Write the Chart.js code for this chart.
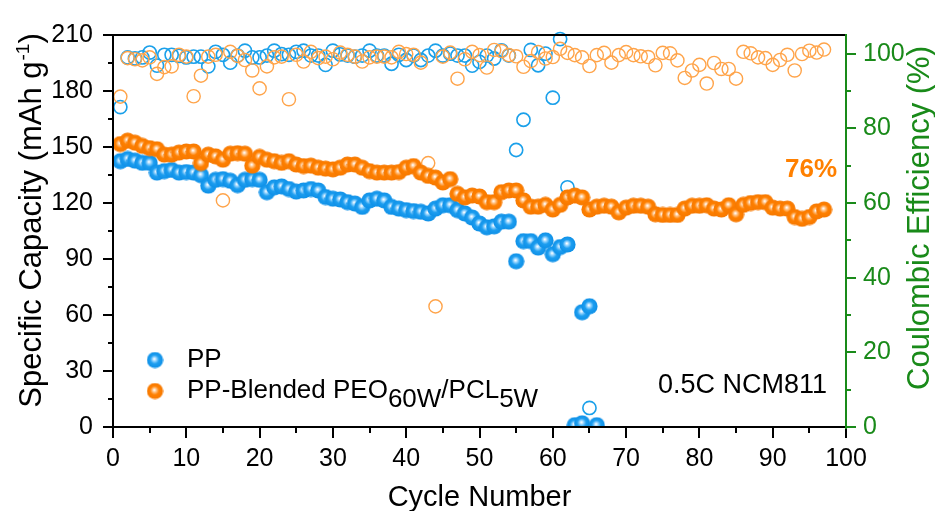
<!DOCTYPE html>
<html><head><meta charset="utf-8">
<script src="https://cdn.jsdelivr.net/npm/chart.js@4.4.1/dist/chart.umd.min.js"></script>
<style>html,body{margin:0;padding:0;background:#fff}canvas{display:block}</style>
</head><body>
<canvas id="c" width="935" height="511"></canvas>
<script>
// ---------- data ----------
const ppCapCycles = [1,2,3,4,5,6,7,8,9,10,11,12,13,14,15,16,17,18,19,20,21,22,23,24,25,26,27,28,29,30,31,32,33,34,35,36,37,38,39,40,41,42,43,44,45,46,47,48,49,50,51,52,53,54,55,56,57,58,59,60,61,62,63,64,64,65,66];
const ppCapacity = [142.4,143.6,142.7,141.5,141.5,136.3,137.1,137.7,136.3,136.6,
  136.3,134.9,129.3,132.4,132.8,131.9,129.6,132.4,132.8,132.4,
  125.8,128.4,128.9,127.5,126.1,126.7,127.5,126.7,123.2,122.3,
  121.9,120.5,119.7,117.9,121.4,122.3,121.4,117.9,117,116.2,
  115.7,115.3,114.4,117,118.8,118.8,116.2,114.4,112.2,109,
  107,107.5,110,110,88.8,99.6,99.6,96.1,100,92.6,96.4,97.8,
  1,61.5,2,64.7,1];
const blendCapCycles = [1,2,3,4,5,6,7,8,9,10,11,12,13,14,15,16,17,18,19,20,21,22,23,24,25,26,27,28,29,30,31,32,33,34,35,36,37,38,39,40,41,42,43,44,45,46,47,48,49,50,51,52,53,54,55,56,57,58,59,60,61,62,63,64,65,66,67,68,69,70,71,72,73,74,75,76,77,78,79,80,81,82,83,84,85,86,87,88,89,90,91,92,93,94,95,96,97];
const blendCapacity = [151.6,153.4,152.3,150.6,149.4,148.8,145.9,145.9,147,147.6,
  147.6,141.4,145.9,145,143.2,146.4,146.7,146.4,140,144.7,
  143.2,142.4,141.5,142.4,140.6,139.8,140,138.9,138.4,138,
  138.9,140.6,140.6,138.9,137.1,136.3,136.3,136.3,136.6,138.9,
  139.8,136.3,134.5,133.6,131,132.8,124.9,123,124,123.5,
  120.5,120.5,125.8,126.7,126.7,121.4,118,118,119,116.5,
  119,123,124,123,116.5,118,118.5,118,115,117.5,
  118.5,118.5,118,114,113.6,113.6,113.6,117,118.5,118.5,
  118.8,117,116.5,118.8,114,119,120,120.5,120.5,117.5,
  117,117,112.5,111.5,112.5,115.5,116.5];
const ppCECycles = [1,2,3,4,5,6,7,8,9,10,11,12,13,14,15,16,17,18,19,20,21,22,23,24,25,26,27,28,29,30,31,32,33,34,35,36,37,38,39,40,41,42,43,44,45,46,47,48,49,50,51,52,53,54,55,56,57,58,59,60,61,62,65];
const ppCE = [85.7,99,98.7,99,100.3,96.8,99.7,99.7,99.4,99,
  99.2,99.2,96.6,100.5,99.7,97.6,99.5,100.8,99,99,
  99.5,100.8,99.9,99.7,100.5,100.8,99.5,99.5,97,100.8,
  99.8,99.5,99.2,99.5,100.8,99.5,99.5,97.3,99.7,98.3,
  99.5,98.3,99.5,100.8,99.5,100,99.5,99.5,96.8,97.8,
  99.5,98.7,100.9,99.5,74.2,82.3,101,96.9,100,88.2,103.9,64.2,
  5.1];
const blendCECycles = blendCapCycles;
const blendCE = [88.5,98.8,98.5,98.2,99,94.6,96.4,96.6,99.7,99.2,
  88.6,94.1,99.2,99.7,60.7,100.5,99.4,98.3,95.5,90.7,
  96.6,99,99.2,87.8,99.7,97.9,100.5,98.8,99.2,98.5,
  100.3,99.7,99.2,97.9,99,99.2,99.2,99,100.5,99.9,
  99.7,97.6,70.7,32.3,99.2,100.3,93.3,98.5,100.5,99.6,
  96.3,101,100.7,99.6,99.3,96.5,98,100.4,98.7,99.1,
  101.3,100.2,99.6,99,96.7,99.6,100.2,97.6,99.6,100.4,
  99.6,99.3,99.1,96.9,100.2,100.1,98.2,93.5,95.5,97,
  92,97.5,95.9,95.9,93.3,100.5,100.1,99,98.8,97,
  98.3,99.7,95.5,99.9,100.8,100.3,101.1];
const xTickValues = [0,10,20,30,40,50,60,70,80,90,100];
const yTickValues = [0,30,60,90,120,150,180,210];
const ceTickValues = [0,20,40,60,80,100];
const seriesNames = ['PP', 'PP-Blended PEO', '60W', '/PCL', '5W'];

// ---------- style ----------
const FONT = "'Liberation Sans', Arial, sans-serif";
const GREEN = '#198a19';
const BLUE = '#1d9ef0', ORANGE = '#ff8000';
const BLUE_OPEN = '#1aa0ea', ORANGE_OPEN = '#ffa44a';

function sphere(base, light, dark) {
  const c = document.createElement('canvas');
  c.width = c.height = 17;
  const g = c.getContext('2d');
  const grad = g.createRadialGradient(7.8, 7.4, 0.3, 8.5, 8.5, 8.5);
  grad.addColorStop(0, '#ffffff');
  grad.addColorStop(0.2, light);
  grad.addColorStop(0.5, base);
  grad.addColorStop(1, dark);
  g.fillStyle = grad;
  g.beginPath(); g.arc(8.5, 8.5, 8.1, 0, Math.PI * 2); g.fill();
  return c;
}
const blueSphere = sphere(BLUE, '#9ad6ff', '#0c8ee6');
const orangeSphere = sphere(ORANGE, '#ffc58a', '#f57800');

const pts = (xs, ys) => xs.map((x, i) => ({x: x, y: ys[i]}));

const axesPlugin = {
  id: 'axesPlugin',
  afterDraw(chart) {
    const ctx = chart.ctx;
    const {left, right, top, bottom} = chart.chartArea;
    const sx = chart.scales.x, sy = chart.scales.y, sr = chart.scales.y2;
    ctx.save();
    ctx.lineWidth = 2;
    ctx.lineCap = 'butt';
    ctx.strokeStyle = '#000';
    ctx.beginPath();
    for (let v = 0; v <= 100; v += 5) {
      const px = Math.round(sx.getPixelForValue(v));
      const len = v % 10 === 0 ? 11 : 6;
      ctx.moveTo(px, bottom); ctx.lineTo(px, bottom + len);
    }
    for (let v = 0; v <= 210; v += 15) {
      const py = Math.round(sy.getPixelForValue(v));
      const len = v % 30 === 0 ? 10 : 5;
      ctx.moveTo(left, py); ctx.lineTo(left - len, py);
    }
    ctx.stroke();
    ctx.beginPath();
    ctx.moveTo(left, top); ctx.lineTo(right, top);
    ctx.moveTo(left, top - 1); ctx.lineTo(left, bottom + 1);
    ctx.moveTo(left, bottom); ctx.lineTo(right, bottom);
    ctx.stroke();
    ctx.strokeStyle = GREEN;
    ctx.beginPath();
    ctx.moveTo(right, top - 1); ctx.lineTo(right, bottom + 2);
    for (let v = 0; v <= 100; v += 10) {
      const py = Math.round(sr.getPixelForValue(v));
      const len = v % 20 === 0 ? 10 : 5;
      ctx.moveTo(right, py); ctx.lineTo(right + len, py);
    }
    ctx.stroke();

    ctx.fillStyle = '#000';
    ctx.textBaseline = 'alphabetic';
    ctx.textAlign = 'left';
    ctx.font = '29px ' + FONT;
    const bt = 'Cycle Number';
    ctx.fillText(bt, (left + right) / 2 - ctx.measureText(bt).width / 2, 506);

    ctx.save();
    ctx.translate(41, 221);
    ctx.rotate(-Math.PI / 2);
    const big = '31px ' + FONT, small = '19px ' + FONT;
    ctx.font = big; const w1 = ctx.measureText('Specific Capacity (mAh g').width;
    ctx.font = small; const w2 = ctx.measureText('-1').width;
    ctx.font = big; const w3 = ctx.measureText(')').width;
    let x0 = -(w1 + w2 + w3) / 2;
    ctx.font = big; ctx.fillText('Specific Capacity (mAh g', x0, 0);
    ctx.font = small; ctx.fillText('-1', x0 + w1 + 1, -12);
    ctx.font = big; ctx.fillText(')', x0 + w1 + w2 + 1, 0);
    ctx.restore();

    ctx.save();
    ctx.translate(929, 218);
    ctx.rotate(-Math.PI / 2);
    ctx.font = '31px ' + FONT;
    ctx.fillStyle = GREEN;
    const rt = 'Coulombic Efficiency (%)';
    ctx.fillText(rt, -ctx.measureText(rt).width / 2, 0);
    ctx.restore();

    ctx.drawImage(blueSphere, 155 - 8.5, 360 - 8.5);
    ctx.drawImage(orangeSphere, 155 - 8.5, 391 - 8.5);
    ctx.fillStyle = '#000';
    ctx.font = '26px ' + FONT;
    ctx.fillText(seriesNames[0], 187, 367);
    let lx = 187;
    ctx.fillText(seriesNames[1], lx, 398); lx += ctx.measureText(seriesNames[1]).width;
    ctx.fillText(seriesNames[2], lx, 407); lx += ctx.measureText(seriesNames[2]).width;
    ctx.fillText(seriesNames[3], lx, 398); lx += ctx.measureText(seriesNames[3]).width;
    ctx.fillText(seriesNames[4], lx, 407);

    ctx.font = '27px ' + FONT;
    ctx.textAlign = 'right';
    ctx.fillText('0.5C NCM811', 827, 393);
    ctx.font = 'bold 26px ' + FONT;
    ctx.fillStyle = ORANGE;
    ctx.fillText('76%', 837, 177);
    ctx.restore();
  }
};

const setTicks = (vals) => (scale) => { scale.ticks = vals.map(v => ({value: v})); };

new Chart(document.getElementById('c'), {
  type: 'scatter',
  data: {
    datasets: [
      { label: 'PP-Blended PEO60W/PCL5W', data: pts(blendCapCycles, blendCapacity), yAxisID: 'y',
        pointStyle: orangeSphere, order: 0, clip: 0 },
      { label: 'PP', data: pts(ppCapCycles, ppCapacity), yAxisID: 'y',
        pointStyle: blueSphere, order: 1, clip: 0 },
      { label: 'PP-Blended CE', data: pts(blendCECycles, blendCE), yAxisID: 'y2',
        pointStyle: 'circle', radius: 6.6, borderWidth: 1.4, borderColor: ORANGE_OPEN,
        backgroundColor: 'rgba(0,0,0,0)', order: 2, clip: false },
      { label: 'PP CE', data: pts(ppCECycles, ppCE), yAxisID: 'y2',
        pointStyle: 'circle', radius: 6.6, borderWidth: 1.6, borderColor: BLUE_OPEN,
        backgroundColor: 'rgba(0,0,0,0)', order: 3, clip: false }
    ]
  },
  options: {
    responsive: false,
    animation: false,
    devicePixelRatio: 1,
    layout: { padding: { top: 26, left: 0, right: 0, bottom: 0 } },
    plugins: { legend: { display: false }, tooltip: { enabled: false } },
    elements: { point: { radius: 8, hoverRadius: 8 } },
    scales: {
      x: {
        type: 'linear', position: 'bottom', min: 0, max: 100,
        afterFit: (s) => { s.height = 84; },
        afterBuildTicks: setTicks(xTickValues),
        grid: { display: false, drawTicks: false, tickLength: 0 },
        border: { display: false },
        ticks: { color: '#000', padding: 17, maxRotation: 0, autoSkip: false,
                 font: { size: 25, family: FONT } }
      },
      y: {
        type: 'linear', position: 'left', min: 0, max: 210,
        afterFit: (s) => { s.width = 113; },
        afterBuildTicks: setTicks(yTickValues),
        grid: { display: false, drawTicks: false, tickLength: 0 },
        border: { display: false },
        ticks: { color: '#000', padding: 20, autoSkip: false, font: { size: 25, family: FONT } }
      },
      y2: {
        type: 'linear', position: 'right', min: 0, max: 105,
        afterFit: (s) => { s.width = 89; },
        afterBuildTicks: setTicks(ceTickValues),
        grid: { display: false, drawTicks: false, tickLength: 0 },
        border: { display: false },
        ticks: { color: GREEN, padding: 17, autoSkip: false, font: { size: 25, family: FONT } }
      }
    }
  },
  plugins: [axesPlugin]
});
</script>
</body></html>
